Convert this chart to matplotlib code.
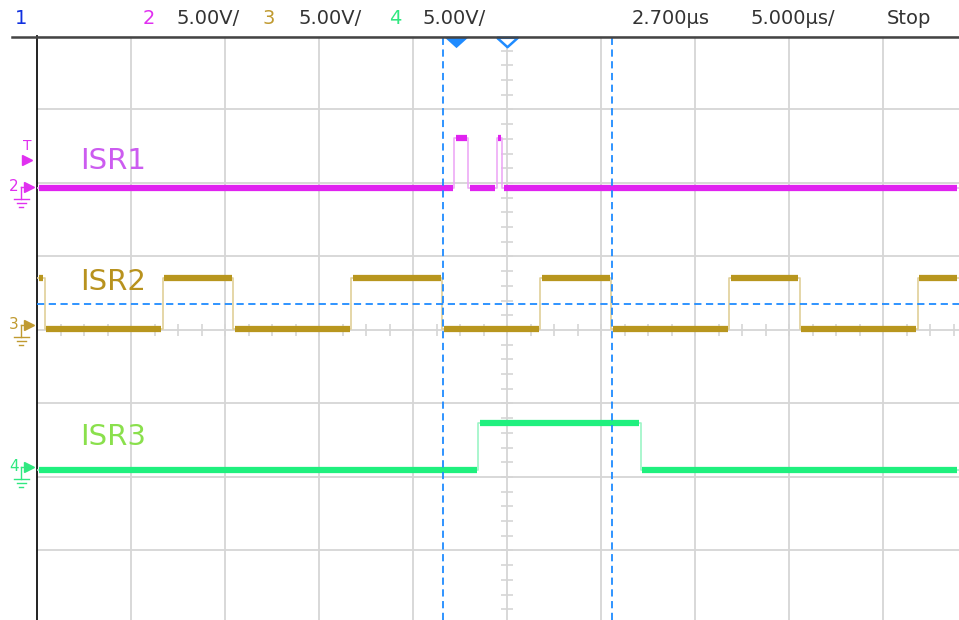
import matplotlib
matplotlib.use('Agg')
from matplotlib import pyplot as plt
from matplotlib.lines import Line2D
import numpy as np


# Time base: microseconds relative to screen centre, 5 us/div
T_START = -25.0
T_END = 24.02

# Channel data: edge times (us), starting level, logic high (V), offset (div)
ch2_edges = [-2.82, -2.07, -0.55, -0.27]
ch3_edges = [-24.58, -18.32, -14.57, -8.30, -3.46, 1.76, 5.53, 11.81, 15.56, 21.82]
ch4_edges = [-1.53, 7.11]
ch_start = [0, 1, 0]
ch_high_volts = [3.4, 3.5, 3.2]
ch_offset_div = [1.93, 0.01, -1.90]
ch_marker_div = [1.95, 0.07, -1.86]
volts_per_div = 5.0

trace_colors = ['#e022f0', '#b8961e', '#1ff07e']
edge_colors = ['#eeaaf6', '#e0cf98', '#9cf5c6']
labels = ['ISR1', 'ISR2', 'ISR3']
label_colors = ['#cc5cf0', '#b8921e', '#8ae04c']
label_pos = [(-22.7, 2.30), (-22.7, 0.65), (-22.7, -1.46)]

cursor_times = [-3.39, 5.55]
cursor_level_div = 0.35
trigger_time = -2.7
trigger_level_div = 2.31

# flat down-pointing triangle used for the top markers
TRI = [(-1.0, 0.45), (1.0, 0.45), (0.0, -0.45), (-1.0, 0.45)]


def build_step(edges, start):
    t = [T_START]
    lvl = [start]
    state = start
    for e in edges:
        t.append(e)
        lvl.append(state)
        state = 1 - state
        t.append(e)
        lvl.append(state)
    t.append(T_END)
    lvl.append(state)
    return np.array(t), np.array(lvl)


def main():
    fig = plt.figure(figsize=(9.59, 6.2), dpi=100)
    fig.patch.set_facecolor('white')
    ax = fig.add_axes([37 / 959, 0, 1 - 37 / 959, (620 - 36) / 620])
    ax.set_xlim(T_START, T_END)
    ax.set_ylim(-3.946, 4)
    ax.set_xticks([])
    ax.set_yticks([])
    for s in ['top', 'right', 'bottom']:
        ax.spines[s].set_visible(False)
    ax.spines['left'].set_color('#111111')
    ax.spines['left'].set_linewidth(1.3)

    # Graticule
    grid_c = '#d6d6d6'
    for t in np.arange(-20, 24, 5):
        ax.axvline(t, color=grid_c, lw=1.3, zorder=1)
    for d in np.arange(-3, 5, 1):
        ax.axhline(d, color=grid_c, lw=1.3, zorder=1)
    # centre ticks: 5 per div vertically, 4 per div horizontally
    yt = np.arange(-3.8, 4.0, 0.2)
    ax.plot(np.zeros_like(yt), yt, ls='none', marker='_', ms=8, mew=1.2, color=grid_c, zorder=1)
    xt = np.arange(-23.75, 24, 1.25)
    ax.plot(xt, np.zeros_like(xt), ls='none', marker='|', ms=8, mew=1.2, color=grid_c, zorder=1)

    # Cursors
    blue = '#1f8bff'
    for ct in cursor_times:
        ax.axvline(ct, color=blue, lw=1.3, ls=(0, (4, 2.5)), zorder=5)
    ax.axhline(cursor_level_div, color=blue, lw=1.3, ls=(0, (4, 2.5)), zorder=5)

    # Traces
    all_edges = [ch2_edges, ch3_edges, ch4_edges]
    for i, edges in enumerate(all_edges):
        t, lvl = build_step(edges, ch_start[i])
        y = ch_offset_div[i] + lvl * ch_high_volts[i] / volts_per_div
        ax.plot(t, y, color=edge_colors[i], lw=1.2, zorder=3)
        # thick flat parts
        bounds = [T_START] + list(edges) + [T_END]
        state = ch_start[i]
        for a, b in zip(bounds[:-1], bounds[1:]):
            yy = ch_offset_div[i] + state * ch_high_volts[i] / volts_per_div
            ax.hlines(yy, a + 0.08, b - 0.08, color=trace_colors[i], lw=4.5, zorder=4)
            state = 1 - state
        ax.text(label_pos[i][0], label_pos[i][1], labels[i], color=label_colors[i],
                fontsize=21, ha='left', va='center', zorder=6)

    # Channel ground markers on the left
    yax = ax.get_yaxis_transform()
    num_colors = ['#e030f0', '#c09a30', '#30e880']
    for i, name in enumerate(['2', '3', '4']):
        m = ch_marker_div[i]
        ax.plot([-0.009], [m], marker='>', ms=7, color=num_colors[i], transform=yax, clip_on=False)
        ax.text(-0.025, m, name, color=num_colors[i], fontsize=11, ha='center', va='center',
                transform=yax, clip_on=False)
        ax.plot([-0.017, -0.011], [m, m], color=num_colors[i], lw=1, transform=yax, clip_on=False)
        ax.plot([-0.017, -0.017], [m, m - 0.17], color=num_colors[i], lw=1, transform=yax, clip_on=False)
        for w, dy in [(0.008, 0.17), (0.005, 0.22), (0.002, 0.27)]:
            ax.plot([-0.017 - w, -0.017 + w], [m - dy, m - dy], color=num_colors[i], lw=1,
                    transform=yax, clip_on=False)

    # Trigger level marker
    ax.plot([-0.011], [trigger_level_div], marker='>', ms=7, color='#e030f0', transform=yax, clip_on=False)
    ax.text(-0.011, trigger_level_div + 0.2, 'T', color='#e030f0', fontsize=10, ha='center',
            va='center', transform=yax, clip_on=False)

    # Trigger position and centre markers at top
    xax = ax.get_xaxis_transform()
    ax.plot([trigger_time], [0.990], marker=TRI, ms=18, color=blue, mew=0,
            transform=xax, clip_on=False, zorder=7)
    ax.plot([0], [0.990], marker=TRI, ms=15, mfc='white', mec=blue, mew=1.8,
            transform=xax, clip_on=False, zorder=7)

    # Header
    fig.add_artist(Line2D([12 / 959, 1], [1 - 36.5 / 620] * 2, color='#444444', lw=1.8))
    hy = 1 - 19 / 620
    head = [(15, '1', '#1030e0'), (143, '2', '#e030f0'), (176, '5.00V/', '#333333'),
            (263, '3', '#c09a30'), (298, '5.00V/', '#333333'), (389, '4', '#30e880'),
            (422, '5.00V/', '#333333'), (632, '2.700µs', '#333333'),
            (750, '5.000µs/', '#333333'), (887, 'Stop', '#333333')]
    for x, s, c in head:
        fig.text(x / 959, hy, s, color=c, fontsize=14, ha='left', va='center')

    fig.savefig('out.png', dpi=100, facecolor='white')
    plt.close(fig)


if __name__ == '__main__':
    main()
